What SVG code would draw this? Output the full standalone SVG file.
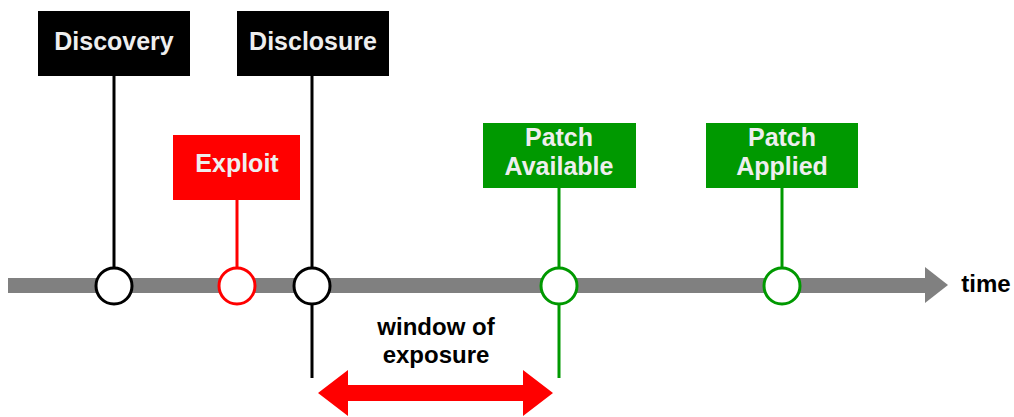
<svg xmlns="http://www.w3.org/2000/svg" width="1014" height="417" viewBox="0 0 1014 417">
  <style>
    .lbl { font-family: "Liberation Sans", Arial, sans-serif; font-weight: bold; font-size: 25px; fill: #eeeeee; text-anchor: middle; }
    .dark { font-family: "Liberation Sans", Arial, sans-serif; font-weight: bold; font-size: 24px; fill: #000000; text-anchor: middle; }
    .pt { fill: #ffffff; stroke-width: 3; }
    .stem { stroke-width: 3; fill: none; }
  </style>
  <rect width="1014" height="417" fill="#ffffff"/>
  <g id="timeline">
    <rect x="8" y="278" width="918" height="15" fill="#808080"/>
    <polygon points="925,267 948,285 925,303" fill="#808080"/>
    <text class="dark" x="986" y="292">time</text>
  </g>
  <g id="connectors">
    <line class="stem" x1="114" y1="76" x2="114" y2="268" stroke="#000"/>
    <line class="stem" x1="312" y1="76" x2="312" y2="378" stroke="#000"/>
    <line class="stem" x1="237" y1="200" x2="237" y2="268" stroke="#ff0000"/>
    <line class="stem" x1="559" y1="188" x2="559" y2="378" stroke="#009900"/>
    <line class="stem" x1="782" y1="188" x2="782" y2="268" stroke="#009900"/>
  </g>
  <g id="discovery">
    <rect x="38" y="11" width="152" height="65" fill="#000"/>
    <text class="lbl" x="114" y="50">Discovery</text>
    <circle class="pt" cx="114" cy="286" r="18" stroke="#000"/>
  </g>
  <g id="disclosure">
    <rect x="237" y="11" width="152" height="65" fill="#000"/>
    <text class="lbl" x="313" y="50">Disclosure</text>
    <circle class="pt" cx="312" cy="286" r="18" stroke="#000"/>
  </g>
  <g id="exploit">
    <rect x="173" y="135" width="127" height="65" fill="#ff0000"/>
    <text class="lbl" x="237" y="172">Exploit</text>
    <circle class="pt" cx="237" cy="286" r="18" stroke="#ff0000"/>
  </g>
  <g id="patch-available">
    <rect x="483" y="123" width="153" height="65" fill="#009900"/>
    <text class="lbl" x="559" y="146">Patch</text>
    <text class="lbl" x="559" y="175">Available</text>
    <circle class="pt" cx="559" cy="286" r="18" stroke="#009900"/>
  </g>
  <g id="patch-applied">
    <rect x="706" y="123" width="152" height="65" fill="#009900"/>
    <text class="lbl" x="782" y="146">Patch</text>
    <text class="lbl" x="782" y="175">Applied</text>
    <circle class="pt" cx="782" cy="286" r="18" stroke="#009900"/>
  </g>
  <g id="window">
    <text class="dark" x="436" y="335">window of</text>
    <text class="dark" x="436" y="363">exposure</text>
    <polygon points="318,393 348,370 348,385 523,385 523,370 553,393 523,416 523,401 348,401 348,416" fill="#ff0000"/>
  </g>
</svg>
